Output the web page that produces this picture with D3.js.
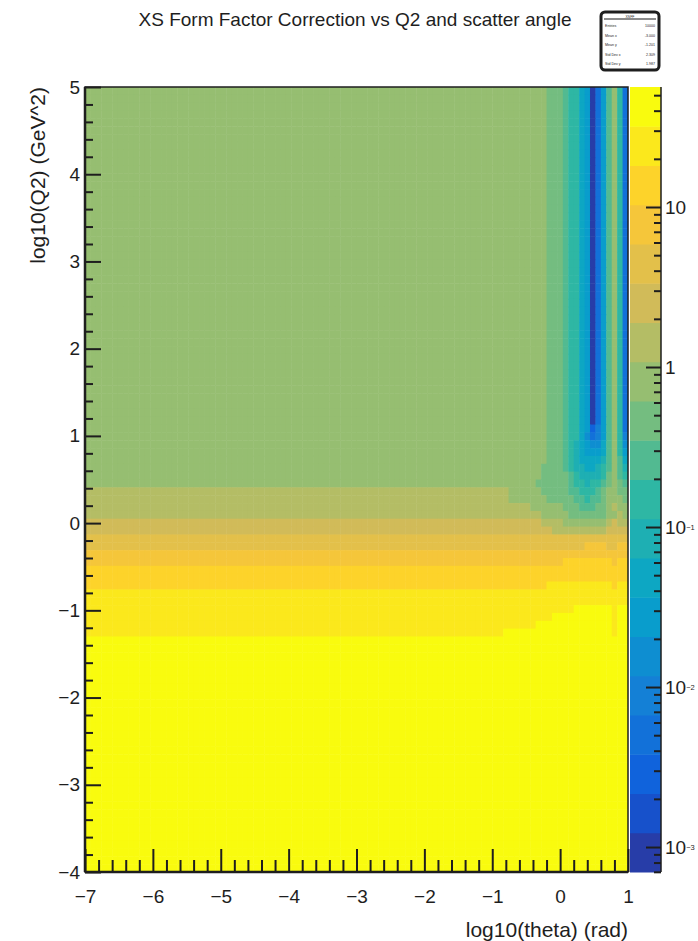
<!DOCTYPE html>
<html>
<head>
<meta charset="utf-8">
<script src="https://cdn.jsdelivr.net/npm/d3@7"></script>
<style>
  body { margin: 0; background: #fff; }
  text { font-family: "Liberation Sans", Arial, Helvetica, sans-serif; fill: #1e1e1e; }
</style>
</head>
<body>
<div id="chart"></div>
<script>
// binning of the 2D histogram
const xBins = {n: 100, min: -7, max: 1};   // log10(theta)
const yBins = {n: 100, min: -4, max: 5};   // log10(Q2)

// z (colour) axis range, log10, and number of contour bands
const zLogRange = [-3.156, 1.75];
const nContours = 20;

// kBird palette
const birdStops = [0.0, 0.125, 0.25, 0.375, 0.5, 0.625, 0.75, 0.875, 1.0];
const birdRed   = [0.2082, 0.0592, 0.0780, 0.0232, 0.1802, 0.5301, 0.8186, 0.9956, 0.9764];
const birdGreen = [0.1664, 0.3599, 0.5041, 0.6419, 0.7178, 0.7492, 0.7328, 0.7862, 0.9832];
const birdBlue  = [0.5293, 0.8684, 0.8385, 0.7914, 0.6425, 0.4662, 0.3499, 0.1968, 0.0539];

// contour band of every cell.
// top row (log10 Q2 = 5) first; [number of identical rows, "band*count ..."]
const cellRows = [
  [43, "12*85 11*3 10 9*2 7 6 0 3 6 10 12 9 3"],
  [1,  "12*85 11*3 10 9*2 7 6 2 4 6 10 12 9 3"],
  [1,  "12*85 11*3 10 9*2 7 5 3 4 6 10 12 9 4"],
  [1,  "12*85 11*3 10 9 8 7 6 5 5 7 10 12 9 5"],
  [1,  "12*85 11*3 10 9 8 7 6 6 6 7 10 12 9 6"],
  [1,  "12*85 11*3 10 9 8 7 7 7 7 8 10 12 10 7"],
  [1,  "12*84 11*4 10 9 8 8 7 7 8 9 10 12 10 8"],
  [1,  "12*84 11*5 10 9 8 8 8 8 9 11 12 10 9"],
  [1,  "12*83 11*6 10 9 9 8 9 9 10 11 12 11 10"],
  [1,  "13*78 12*6 11*5 10 10 9 9 9 10 11 12 12 11 11"],
  [1,  "13*78 12*7 11*5 10 10 9 10 10 11 12 12 12 11"],
  [1,  "13*82 12*6 11*3 10 10 10 11 11 12 13 12 12"],
  [1,  "13*84 12*5 11*3 11 11 11 11 12 12 13 12 12"],
  [1,  "14*84 13*4 12*5 12 12 12 13 14 13 13"],
  [1,  "14*86 13*10 14 14 14 14"],
  [1,  "15*100"],
  [1,  "15*92 16*4 15 15 16 16"],
  [1,  "16*100"],
  [1,  "16*88 17*8 17 16 17 17"],
  [2,  "17*100"],
  [1,  "17*85 18*12 17 18 18"],
  [2,  "18*100"],
  [1,  "18*90 19*7 18 19 19"],
  [1,  "18*86 19*11 18 19 19"],
  [1,  "18*83 19*14 18 19 19"],
  [1,  "18*77 19*20 18 19 19"],
  [30, "19*100"]
];

const xTicks = d3.range(-7, 2);
const yTicks = d3.range(-4, 6);
const zMajor = [1e-3, 1e-2, 1e-1, 1, 10];

const titleText = "XS Form Factor Correction vs Q2 and scatter angle";
const xTitle = "log10(theta) (rad)";
const yTitle = "log10(Q2) (GeV^2)";
const statsRows = [["Entries", "10000"], ["Mean x", "-3.000"], ["Mean y", "-1.201"],
                   ["Std Dev x", "2.309"], ["Std Dev y", "1.987"]];

// ---------------------------------------------------------------
const W = 698, H = 941;
const frame = {left: 85, right: 628, top: 87, bottom: 872};
const bar = {left: 630, right: 661};
const ink = "#1e1e1e";

const svg = d3.select('#chart').append('svg')
    .attr('width', W)
    .attr('height', H);

const x = d3.scaleLinear().domain([xBins.min, xBins.max]).range([frame.left, frame.right]);
const y = d3.scaleLinear().domain([yBins.min, yBins.max]).range([frame.bottom, frame.top]);
const z = d3.scaleLog().domain(zLogRange.map(v => Math.pow(10, v))).range([frame.bottom, frame.top]);

const bird = d3.scaleLinear()
    .domain(birdStops)
    .range(birdStops.map((s, i) => d3.rgb(birdRed[i] * 255, birdGreen[i] * 255, birdBlue[i] * 255)))
    .interpolate(d3.interpolateRgb);

// colour of each contour band as ROOT picks it from the 255 palette entries
const bandColors = d3.range(nContours).map(k => bird(Math.floor((k + 0.99) * 255 / nContours) / 254));
const zStep = (zLogRange[1] - zLogRange[0]) / nContours;
const bandEdges = d3.range(0, nContours + 1).map(k => Math.pow(10, zLogRange[0] + k * zStep));
const color = d3.scaleThreshold().domain(bandEdges.slice(1, -1)).range(bandColors);

// expand the row table into cells
const dx = (xBins.max - xBins.min) / xBins.n;
const dy = (yBins.max - yBins.min) / yBins.n;
const cells = [];
let row = 0;
cellRows.forEach(([rep, s]) => {
    const levels = [];
    s.trim().split(/\s+/).forEach(tok => {
        const [lv, n] = tok.split('*');
        for (let i = 0; i < (n ? +n : 1); i++) levels.push(+lv);
    });
    if (levels.length !== xBins.n) console.warn('row length', levels.length, s);
    for (let r = 0; r < rep; r++, row++) {
        levels.forEach((lv, c) => cells.push({
            x0: xBins.min + c * dx, x1: xBins.min + (c + 1) * dx,
            y1: yBins.max - row * dy, y0: yBins.max - (row + 1) * dy,
            v: Math.sqrt(bandEdges[lv] * bandEdges[lv + 1])
        }));
    }
});

svg.append('clipPath').attr('id', 'clip')
    .append('rect')
    .attr('x', frame.left).attr('y', frame.top)
    .attr('width', frame.right - frame.left).attr('height', frame.bottom - frame.top);

svg.append('g')
    .attr('clip-path', 'url(#clip)')
    .selectAll('rect')
    .data(cells)
    .join('rect')
    .attr('x', d => x(d.x0))
    .attr('y', d => y(d.y1))
    .attr('width', d => x(d.x1) - x(d.x0) + 0.5)
    .attr('height', d => y(d.y0) - y(d.y1) + 0.5)
    .attr('fill', d => color(d.v));

// frame
svg.append('rect')
    .attr('x', frame.left).attr('y', frame.top)
    .attr('width', frame.right - frame.left).attr('height', frame.bottom - frame.top)
    .attr('fill', 'none').attr('stroke', ink).attr('stroke-width', 1.5);

// x axis
function styleAxis(g) {
    g.select('.domain').remove();
    g.selectAll('.tick line').attr('stroke', ink).attr('stroke-width', 2);
    g.selectAll('.tick text').attr('fill', ink).attr('font-size', 19)
        .attr('font-family', '"Liberation Sans", Arial, sans-serif');
}
const xMinor = d3.range(xBins.min, xBins.max + 1e-9, 0.2).filter(v => Math.abs(v - Math.round(v)) > 1e-6);
svg.append('g')
    .attr('transform', `translate(0,${frame.bottom})`)
    .call(d3.axisBottom(x).tickValues(xMinor).tickSizeInner(-12).tickSizeOuter(0).tickFormat(''))
    .call(styleAxis);
svg.append('g')
    .attr('transform', `translate(0,${frame.bottom})`)
    .call(d3.axisBottom(x).tickValues(xTicks).tickSizeInner(-23).tickSizeOuter(0).tickPadding(18).tickFormat(d3.format('d')))
    .call(styleAxis);

// y axis
const yMinor = d3.range(yBins.min, yBins.max + 1e-9, 0.2).filter(v => Math.abs(v - Math.round(v)) > 1e-6);
svg.append('g')
    .attr('transform', `translate(${frame.left},0)`)
    .call(d3.axisLeft(y).tickValues(yMinor).tickSizeInner(-8).tickSizeOuter(0).tickFormat(''))
    .call(styleAxis);
svg.append('g')
    .attr('transform', `translate(${frame.left},0)`)
    .call(d3.axisLeft(y).tickValues(yTicks).tickSizeInner(-16).tickSizeOuter(0).tickPadding(5).tickFormat(d3.format('d')))
    .call(styleAxis);

// heavier axis lines on left and bottom
svg.append('line').attr('x1', frame.left).attr('x2', frame.left).attr('y1', frame.top).attr('y2', frame.bottom)
    .attr('stroke', ink).attr('stroke-width', 2.5);
svg.append('line').attr('x1', frame.left).attr('x2', frame.right).attr('y1', frame.bottom).attr('y2', frame.bottom)
    .attr('stroke', ink).attr('stroke-width', 2.5);

// colour bar
svg.append('g')
    .selectAll('rect')
    .data(d3.range(nContours))
    .join('rect')
    .attr('x', bar.left)
    .attr('width', bar.right - bar.left)
    .attr('y', k => z(bandEdges[k + 1]))
    .attr('height', k => z(bandEdges[k]) - z(bandEdges[k + 1]) + 0.5)
    .attr('fill', k => bandColors[k]);

const zDomain = z.domain();
const zMinor = [];
d3.range(-4, 2).forEach(e => d3.range(2, 10).forEach(m => {
    const v = m * Math.pow(10, e);
    if (v >= zDomain[0] && v <= zDomain[1]) zMinor.push(v);
}));
svg.append('g')
    .attr('transform', `translate(${bar.right},0)`)
    .call(d3.axisRight(z).tickValues(zMinor).tickSizeInner(-7).tickSizeOuter(0).tickFormat(''))
    .call(styleAxis);
const zAxisG = svg.append('g')
    .attr('transform', `translate(${bar.right},0)`)
    .call(d3.axisRight(z).tickValues(zMajor).tickSizeInner(-15).tickSizeOuter(0).tickPadding(4).tickFormat(''))
    .call(styleAxis);
zAxisG.selectAll('.tick text').each(function(d) {
    const t = d3.select(this);
    const e = Math.round(Math.log10(d));
    if (e === 0) t.text('1');
    else if (e === 1) t.text('10');
    else {
        t.text('10');
        t.append('tspan').attr('dy', '-0.5em').attr('font-size', 7.5).text('\u2212' + (-e));
    }
});
svg.append('line').attr('x1', bar.right).attr('x2', bar.right).attr('y1', frame.top).attr('y2', frame.bottom)
    .attr('stroke', ink).attr('stroke-width', 1.5);

// titles
svg.append('text')
    .attr('x', 355).attr('y', 26)
    .attr('text-anchor', 'middle')
    .attr('font-size', 19)
    .text(titleText);

svg.append('text')
    .attr('x', frame.right).attr('y', 937)
    .attr('text-anchor', 'end')
    .attr('font-size', 21)
    .text(xTitle);

svg.append('text')
    .attr('transform', `translate(45,${frame.top}) rotate(-90)`)
    .attr('text-anchor', 'end')
    .attr('font-size', 21)
    .text(yTitle);

// statistics box
const stats = svg.append('g').attr('transform', 'translate(601,12)');
stats.append('rect')
    .attr('width', 58).attr('height', 58).attr('rx', 4)
    .attr('fill', '#fff').attr('stroke', ink).attr('stroke-width', 3);
stats.append('line').attr('x1', 3).attr('x2', 55).attr('y1', 7).attr('y2', 7)
    .attr('stroke', '#666').attr('stroke-width', 1.5);
stats.append('text').attr('x', 29).attr('y', 5.5).attr('text-anchor', 'middle')
    .attr('font-size', 3.5).attr('fill', '#888').text('XSFF');
stats.selectAll('.srow')
    .data(statsRows)
    .join('g')
    .attr('class', 'srow')
    .attr('transform', (d, i) => `translate(0,${15 + i * 9.5})`)
    .each(function(d) {
        const g = d3.select(this);
        g.append('text').attr('x', 4).attr('font-size', 3.6).attr('fill', '#777').text(d[0]);
        g.append('text').attr('x', 54).attr('text-anchor', 'end').attr('font-size', 3.6).attr('fill', '#777').text(d[1]);
    });
</script>
</body>
</html>
